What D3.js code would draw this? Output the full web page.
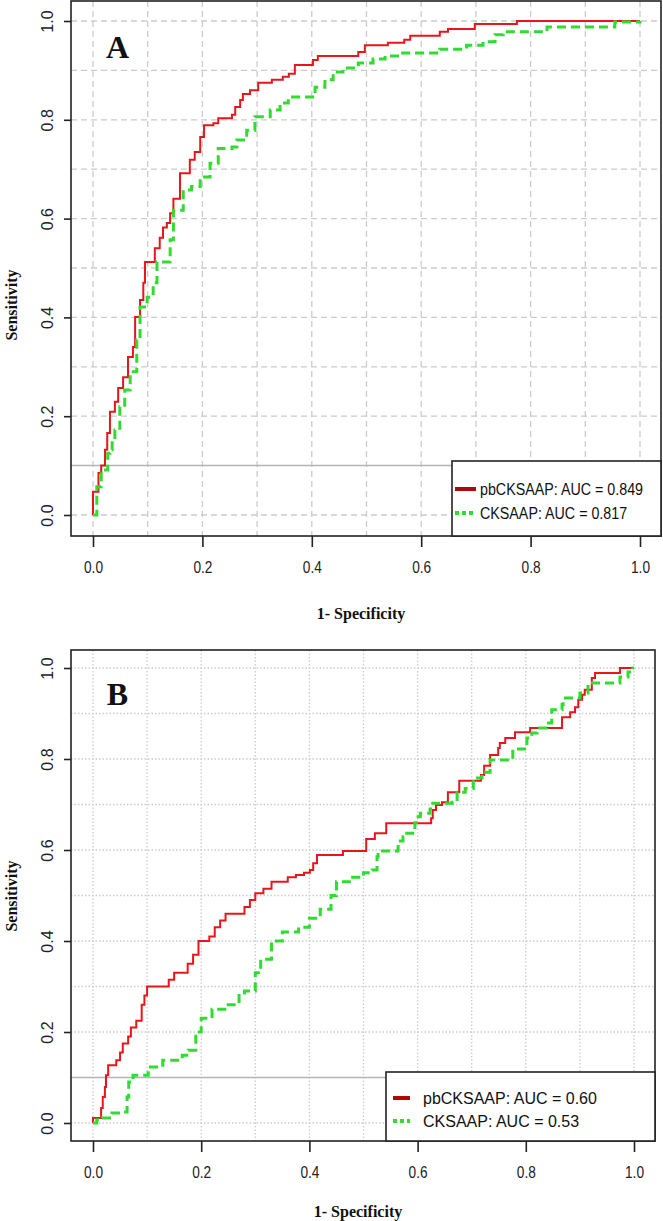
<!DOCTYPE html>
<html>
<head>
<meta charset="utf-8">
<script src="https://cdn.jsdelivr.net/npm/d3@7"></script>
<style>
  html, body { margin: 0; padding: 0; background: #fff; }
  svg { display: block; }
</style>
</head>
<body>
<svg id="chart" width="663" height="1221"></svg>
<script>
// ---------------- DATA ----------------
const xTicks = [0, 0.2, 0.4, 0.6, 0.8, 1.0];
const yTicks = [0, 0.2, 0.4, 0.6, 0.8, 1.0];
const gridValues = [0, 0.1, 0.2, 0.3, 0.4, 0.5, 0.6, 0.7, 0.8, 0.9, 1.0];
const seriesNames = ["pbCKSAAP", "CKSAAP"];
const panelLabels = ["A", "B"];
const legendA = ["pbCKSAAP: AUC = 0.849", "CKSAAP: AUC = 0.817"];
const legendB = ["pbCKSAAP: AUC = 0.60", "CKSAAP: AUC = 0.53"];
const xLabel = "1- Specificity";
const yLabel = "Sensitivity";

// Panel A, pbCKSAAP (1-specificity, sensitivity)
const pbA_fpr = [0, 0, 0.010, 0.015, 0.022, 0.026, 0.031, 0.040, 0.046, 0.055, 0.064, 0.073, 0.077, 0.086, 0.092, 0.095, 0.113, 0.122, 0.128, 0.135, 0.141, 0.147, 0.159, 0.170, 0.177, 0.186, 0.196, 0.203, 0.220, 0.229, 0.254, 0.260, 0.269, 0.274, 0.287, 0.302, 0.327, 0.347, 0.358, 0.369, 0.402, 0.411, 0.485, 0.497, 0.539, 0.569, 0.580, 0.634, 0.649, 0.698, 0.775, 1.0];
const pbA_tpr = [0, 0.047, 0.085, 0.100, 0.132, 0.166, 0.209, 0.229, 0.257, 0.279, 0.320, 0.340, 0.401, 0.435, 0.470, 0.512, 0.540, 0.561, 0.582, 0.591, 0.611, 0.640, 0.692, 0.692, 0.719, 0.735, 0.765, 0.789, 0.793, 0.803, 0.810, 0.826, 0.840, 0.852, 0.860, 0.875, 0.881, 0.887, 0.893, 0.911, 0.921, 0.929, 0.937, 0.951, 0.956, 0.962, 0.970, 0.978, 0.984, 0.994, 1.0, 1.0];
// Panel A, CKSAAP
const ckA_fpr = [0, 0.007, 0.015, 0.027, 0.031, 0.035, 0.040, 0.049, 0.058, 0.068, 0.080, 0.086, 0.099, 0.110, 0.117, 0.128, 0.141, 0.147, 0.165, 0.180, 0.196, 0.214, 0.229, 0.254, 0.263, 0.281, 0.296, 0.314, 0.324, 0.342, 0.357, 0.406, 0.424, 0.439, 0.457, 0.485, 0.512, 0.534, 0.561, 0.634, 0.683, 0.713, 0.735, 0.750, 0.830, 0.954, 1.0];
const ckA_tpr = [0, 0.057, 0.091, 0.125, 0.132, 0.152, 0.172, 0.219, 0.253, 0.290, 0.354, 0.421, 0.441, 0.470, 0.512, 0.512, 0.557, 0.617, 0.658, 0.665, 0.684, 0.712, 0.742, 0.745, 0.759, 0.779, 0.806, 0.806, 0.820, 0.834, 0.846, 0.866, 0.881, 0.897, 0.905, 0.915, 0.923, 0.929, 0.935, 0.943, 0.951, 0.958, 0.972, 0.978, 0.988, 0.998, 1.0];
// Panel B, pbCKSAAP
const pbB_fpr = [0, 0, 0.015, 0.018, 0.022, 0.024, 0.028, 0.043, 0.050, 0.055, 0.065, 0.070, 0.080, 0.090, 0.095, 0.100, 0.140, 0.150, 0.175, 0.185, 0.195, 0.215, 0.225, 0.235, 0.245, 0.280, 0.290, 0.300, 0.315, 0.330, 0.360, 0.375, 0.390, 0.401, 0.407, 0.414, 0.462, 0.505, 0.521, 0.542, 0.625, 0.628, 0.634, 0.645, 0.656, 0.677, 0.717, 0.723, 0.734, 0.749, 0.752, 0.762, 0.780, 0.808, 0.867, 0.882, 0.891, 0.897, 0.904, 0.909, 0.922, 0.928, 0.974, 1.0];
const pbB_tpr = [0, 0.011, 0.033, 0.057, 0.079, 0.105, 0.127, 0.138, 0.155, 0.175, 0.190, 0.210, 0.225, 0.260, 0.280, 0.300, 0.315, 0.330, 0.350, 0.370, 0.400, 0.410, 0.430, 0.445, 0.460, 0.475, 0.490, 0.505, 0.515, 0.530, 0.540, 0.545, 0.550, 0.556, 0.571, 0.589, 0.598, 0.624, 0.637, 0.659, 0.670, 0.688, 0.699, 0.705, 0.727, 0.752, 0.765, 0.785, 0.809, 0.824, 0.835, 0.846, 0.859, 0.868, 0.892, 0.903, 0.914, 0.930, 0.941, 0.952, 0.978, 0.989, 1.0, 1.0];
// Panel B, CKSAAP
const ckB_fpr = [0, 0.007, 0.017, 0.035, 0.055, 0.063, 0.066, 0.074, 0.102, 0.129, 0.165, 0.176, 0.190, 0.200, 0.220, 0.250, 0.270, 0.280, 0.300, 0.310, 0.330, 0.350, 0.380, 0.400, 0.420, 0.440, 0.450, 0.480, 0.500, 0.516, 0.525, 0.527, 0.564, 0.573, 0.580, 0.595, 0.601, 0.605, 0.623, 0.628, 0.664, 0.673, 0.688, 0.703, 0.719, 0.734, 0.776, 0.802, 0.811, 0.821, 0.839, 0.848, 0.867, 0.869, 0.900, 0.915, 0.974, 0.989, 0.998, 1.0];
const ckB_tpr = [0, 0.007, 0.011, 0.022, 0.024, 0.057, 0.090, 0.105, 0.123, 0.138, 0.149, 0.160, 0.200, 0.230, 0.250, 0.260, 0.280, 0.290, 0.330, 0.360, 0.400, 0.420, 0.430, 0.450, 0.470, 0.500, 0.530, 0.540, 0.550, 0.556, 0.585, 0.598, 0.620, 0.629, 0.637, 0.660, 0.673, 0.681, 0.690, 0.703, 0.705, 0.727, 0.735, 0.758, 0.771, 0.798, 0.822, 0.846, 0.857, 0.868, 0.879, 0.908, 0.920, 0.934, 0.945, 0.967, 0.980, 0.991, 1.0, 1.0];

// ---------------- DRAW ----------------
const svg = d3.select("#chart");
const RED = "#e8161b", RED_LEG = "#b00808", GREEN = "#2fdc2f";

function zip(xs, ys) { return xs.map((x, i) => [x, ys[i]]); }

function drawPanel(cfg) {
  const x = d3.scaleLinear().domain([0, 1]).range(cfg.xr);
  const y = d3.scaleLinear().domain([0, 1]).range(cfg.yr);
  const b = cfg.box;
  const g = svg.append("g");

  // grid
  const gridDash = cfg.dotted ? "1.5,2" : "6,4";
  g.append("g").selectAll("line").data(gridValues).join("line")
    .attr("x1", d => x(d)).attr("x2", d => x(d))
    .attr("y1", b.top).attr("y2", b.bottom)
    .attr("stroke", "#cccccc").attr("stroke-width", 1.3).attr("stroke-dasharray", gridDash);
  g.append("g").selectAll("line").data(gridValues.filter(d => d !== 0.1)).join("line")
    .attr("x1", b.left).attr("x2", b.right)
    .attr("y1", d => y(d)).attr("y2", d => y(d))
    .attr("stroke", "#cccccc").attr("stroke-width", 1.3).attr("stroke-dasharray", gridDash);
  g.append("line")
    .attr("x1", b.left).attr("x2", b.right)
    .attr("y1", y(0.1)).attr("y2", y(0.1))
    .attr("stroke", "#b4b4b4").attr("stroke-width", 1.5);

  // curves
  const line = d3.line().x(d => x(d[0])).y(d => y(d[1])).curve(d3.curveStepAfter);
  g.append("path").datum(zip(cfg.pbF, cfg.pbT))
    .attr("d", line).attr("fill", "none").attr("stroke", RED).attr("stroke-width", 2);
  g.append("path").datum(zip(cfg.ckF, cfg.ckT))
    .attr("d", line).attr("fill", "none").attr("stroke", GREEN).attr("stroke-width", 3)
    .attr("stroke-dasharray", "9,5");

  // box
  g.append("rect").attr("x", b.left).attr("y", b.top)
    .attr("width", b.right - b.left).attr("height", b.bottom - b.top)
    .attr("fill", "none").attr("stroke", "#222").attr("stroke-width", 1.6);

  // axes
  const xa = g.append("g").attr("transform", `translate(0,${b.bottom})`)
    .call(d3.axisBottom(x).tickValues(xTicks).tickSize(11).tickPadding(15).tickFormat(d3.format(".1f")));
  xa.select(".domain").remove();
  xa.selectAll("line").attr("stroke", "#222").attr("stroke-width", 1.6);
  xa.selectAll("text").attr("font-family", "'Liberation Sans', Arial, sans-serif")
    .attr("font-size", 16).attr("fill", "#222")
    .attr("textLength", 19).attr("lengthAdjust", "spacingAndGlyphs");

  const ya = g.append("g").attr("transform", `translate(${b.left},0)`)
    .call(d3.axisLeft(y).tickValues(yTicks).tickSize(7).tickFormat(d3.format(".1f")));
  ya.select(".domain").remove();
  ya.selectAll("line").attr("stroke", "#222").attr("stroke-width", 1.6);
  ya.selectAll("text").attr("x", null).attr("dy", "0.35em")
    .attr("transform", "translate(-24,0) rotate(-90)")
    .attr("text-anchor", "middle")
    .attr("font-family", "'Liberation Sans', Arial, sans-serif")
    .attr("font-size", 16).attr("fill", "#222");

  // axis titles
  g.append("text").attr("x", cfg.xlabX).attr("y", cfg.xlabY)
    .attr("text-anchor", "middle").attr("font-family", "'Liberation Serif', 'Times New Roman', serif")
    .attr("font-weight", "bold").attr("font-size", 16).attr("fill", "#111").text(xLabel);
  g.append("text").attr("transform", `translate(${cfg.ylabX},${cfg.ylabY}) rotate(-90)`)
    .attr("text-anchor", "middle").attr("font-family", "'Liberation Serif', 'Times New Roman', serif")
    .attr("font-weight", "bold").attr("font-size", 16).attr("fill", "#111").text(yLabel);

  // panel letter
  g.append("text").attr("x", x(0.045)).attr("y", cfg.letterY)
    .attr("text-anchor", "middle").attr("font-family", "'Liberation Serif', 'Times New Roman', serif")
    .attr("font-weight", "bold").attr("font-size", 32).attr("fill", "#111").text(cfg.letter);

  // legend
  const L = cfg.leg;
  g.append("rect").attr("x", L.left).attr("y", L.top)
    .attr("width", b.right - L.left).attr("height", b.bottom - L.top)
    .attr("fill", "#fff").attr("stroke", "#222").attr("stroke-width", 1.6);
  const cols = [RED_LEG, GREEN];
  const dashes = [null, "4,3"];
  cfg.legText.forEach((t, i) => {
    g.append("line").attr("x1", L.lx1).attr("x2", L.lx2)
      .attr("y1", L.ys[i]).attr("y2", L.ys[i])
      .attr("stroke", cols[i]).attr("stroke-width", 4)
      .attr("stroke-dasharray", dashes[i]);
    g.append("text")
      .attr("transform", `translate(${L.tx},${L.ys[i]}) scale(${L.sx},1)`)
      .attr("dy", "0.36em")
      .attr("font-family", "'Liberation Sans', Arial, sans-serif")
      .attr("font-size", L.fs).attr("fill", "#111").text(t);
  });
}

drawPanel({
  letter: panelLabels[0],
  xr: [93, 640], yr: [515, 21],
  box: { left: 71, top: 1, right: 661, bottom: 536 },
  dotted: false,
  pbF: pbA_fpr, pbT: pbA_tpr, ckF: ckA_fpr, ckT: ckA_tpr,
  xlabX: 361, xlabY: 619, ylabX: 17, ylabY: 305, letterY: 58,
  legText: legendA,
  leg: { left: 452, top: 461, lx1: 455, lx2: 476, tx: 480, ys: [489, 513], fs: 17, sx: 0.84 }
});

drawPanel({
  letter: panelLabels[1],
  xr: [93, 634], yr: [1123, 668],
  box: { left: 71, top: 650, right: 655, bottom: 1141 },
  dotted: true,
  pbF: pbB_fpr, pbT: pbB_tpr, ckF: ckB_fpr, ckT: ckB_tpr,
  xlabX: 358, xlabY: 1217, ylabX: 17, ylabY: 896, letterY: 705,
  legText: legendB,
  leg: { left: 386, top: 1072, lx1: 393, lx2: 410, tx: 423, ys: [1098, 1121], fs: 16, sx: 1 }
});
</script>
</body>
</html>
